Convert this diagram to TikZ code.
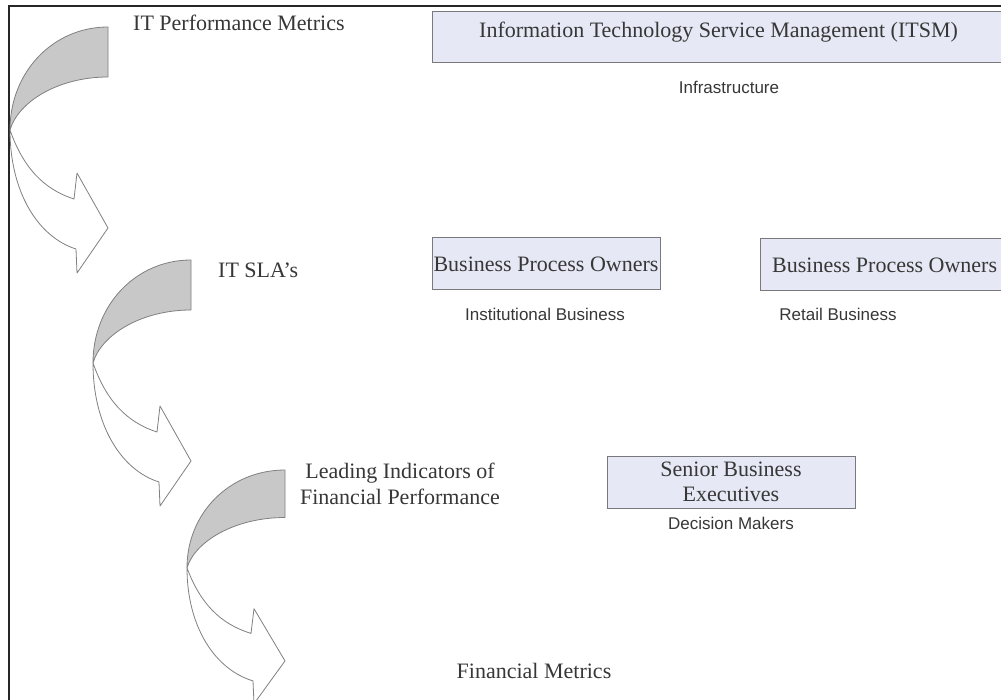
\documentclass[tikz,border=0pt]{standalone}
\usepackage{fontspec}
\setmainfont{Liberation Serif}
\setsansfont{Liberation Sans}
\definecolor{arrgray}{RGB}{200,200,200}
\definecolor{arredge}{RGB}{128,128,128}
\definecolor{boxfill}{RGB}{230,233,245}
\definecolor{boxedge}{RGB}{120,120,125}
\definecolor{txtdark}{RGB}{55,55,55}
\tikzset{
  arrline/.style={draw=arredge, line width=0.8pt, line join=round},
  boxnode/.style={draw=boxedge, fill=boxfill, line width=1pt, inner sep=0pt},
  serif/.style={font=\fontsize{22}{26}\selectfont, text=txtdark, inner sep=0pt, align=center},
  sans/.style={font=\sffamily\fontsize{17}{20}\selectfont, text=txtdark, inner sep=0pt},
}
\newcommand\curvedarr[3]{%
  \begin{scope}[shift={(#1,#2)}, yscale=#3]
    \draw[arrline, fill=arrgray] (0,0) .. controls (-55,0) and (-98,45) .. (-98,103)
      .. controls (-90,75) and (-50,50) .. (0,50) -- cycle;
    \draw[arrline, fill=white] (-98,103) .. controls (-85,140) and (-65,162) .. (-34,172)
      -- (-31,146) -- (0,201) -- (-31,246) -- (-32,222)
      .. controls (-70,210) and (-98,165) .. cycle;
  \end{scope}}
\begin{document}
\begin{tikzpicture}[x=1pt,y=-1pt]
\useasboundingbox (0,0) rectangle (1001,700);
\clip (0,0) rectangle (1001,700);
\fill[white] (0,0) rectangle (1001,700);
% frame
\draw[line width=2pt, black!85] (9,720) -- (9,6) -- (1020,6);
% curved arrows
\curvedarr{108}{27}{1}
\curvedarr{191}{260}{1}
\curvedarr{285}{470}{0.95}
% left labels
\node[serif, anchor=west] (lab1) at (133,23) {IT Performance Metrics};
\node[serif, anchor=west] (lab2) at (218,270) {IT SLA’s};
\node[serif] (lab3) at (400,484) {Leading Indicators of\\Financial Performance};
\node[serif] (lab4) at (534,671) {Financial Metrics};
% ITSM
\node[boxnode, anchor=north west, minimum width=600pt, minimum height=51pt] (itsm) at (432,11) {};
\node[serif, anchor=west] (itsmt) at (479,32) {Information Technology Service Management (ITSM)};
\node[sans] (infra) at (729,87) {Infrastructure};
% business process owners
\node[boxnode, minimum width=228pt, minimum height=52pt, serif, text=txtdark] (bpo1) at (546,264) {Business Process Owners};
\node[sans] (inst) at (545,314) {Institutional Business};
\node[boxnode, anchor=north west, minimum width=300pt, minimum height=52pt] (bpo2) at (760,238) {};
\node[serif, anchor=west] (bpo2t) at (772,265) {Business Process Owners};
\node[sans] (retail) at (838,314) {Retail Business};
% senior executives
\node[boxnode, minimum width=248pt, minimum height=52pt, serif, font=\fontsize{22}{25}\selectfont] (senior) at (731,482) {Senior Business\\Executives};
\node[sans] (dec) at (731,523) {Decision Makers};
\end{tikzpicture}
\end{document}
